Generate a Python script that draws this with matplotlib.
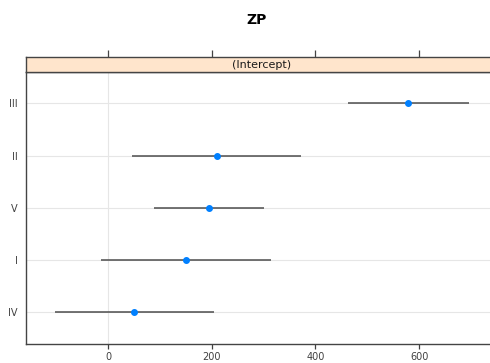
import matplotlib
matplotlib.use("Agg")
import matplotlib.pyplot as plt

groups = ["IV", "I", "V", "II", "III"]
estimates = [51, 150, 195, 210, 579]
lower = [-103, -13, 89, 47, 462]
upper = [205, 314, 301, 373, 697]
xticks = [0, 200, 400, 600]
strip_label = "(Intercept)"
title = "ZP"

W, H = 490, 363
fig = plt.figure(figsize=(W / 100, H / 100), dpi=100)

px0, px1 = 26, 500
py_top, py_bot = 72, 344
strip_top = 57
x_per_px = 200 / 103.7
xmin = (px0 - 108) * x_per_px
xmax = (px1 - 108) * x_per_px

ax = fig.add_axes([px0 / W, (H - py_bot) / H, (px1 - px0) / W, (py_bot - py_top) / H])
sax = fig.add_axes([px0 / W, (H - py_top) / H, (px1 - px0) / W, (py_top - strip_top) / H])

ypos = list(range(1, len(groups) + 1))
for y in ypos:
    ax.axhline(y, color="#e6e6e6", lw=0.8, zorder=0)
ax.axvline(0, color="#e6e6e6", lw=0.8, zorder=0)
ax.hlines(ypos, lower, upper, color="#4d4d4d", lw=1.1, zorder=2)
ax.plot(estimates, ypos, "o", color="#0080ff", ms=4, zorder=3)

ax.set_xlim(xmin, xmax)
ax.set_ylim(0.39, 5.6)
ax.set_yticks(ypos)
ax.set_yticklabels(groups)
ax.set_xticks(xticks)
ax.tick_params(axis="y", length=0, pad=6, labelsize=7, colors="#404040")
ax.tick_params(axis="x", length=3.5, width=0.9, pad=2.5, labelsize=7, colors="#404040", direction="out")
for s in ["left", "bottom", "top"]:
    ax.spines[s].set_color("#444444")
    ax.spines[s].set_linewidth(1.0)
ax.spines["right"].set_visible(False)

sax.set_facecolor("#ffe5cc")
sax.set_xlim(xmin, xmax)
sax.set_ylim(0, 1)
sax.set_yticks([])
sax.set_xticks(xticks)
sax.xaxis.tick_top()
sax.tick_params(axis="x", length=5, width=0.9, labeltop=False, colors="#444444", direction="out")
for s in ["left", "bottom", "top"]:
    sax.spines[s].set_color("#444444")
    sax.spines[s].set_linewidth(1.0)
sax.spines["right"].set_visible(False)
sax.text((262 - px0) / (px1 - px0), 0.45, strip_label,
         transform=sax.transAxes, ha="center", va="center", fontsize=8, color="#1a1a1a")

fig.text(257 / W, 1 - 20 / H, title, ha="center", va="center", fontsize=10, fontweight="bold")

fig.savefig("out.png", dpi=100)
